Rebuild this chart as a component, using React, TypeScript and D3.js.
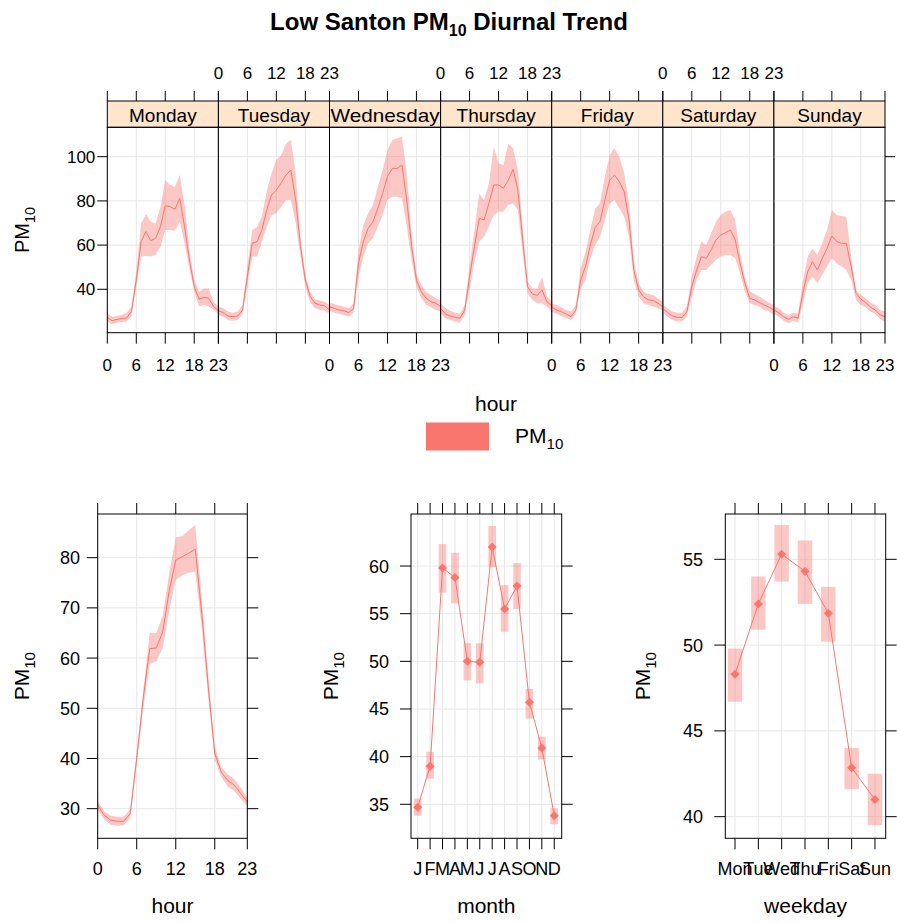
import * as d3 from "d3";
import { useEffect, useRef } from "react";

// ---- data (PM10) ----
const days = ["Monday", "Tuesday", "Wednesday", "Thursday", "Friday", "Saturday", "Sunday"];
const hourTicks = [0, 6, 12, 18, 23];
const topYTicks = [40, 60, 80, 100];

const mondayMean = [27.2, 25.8, 26.4, 26.7, 27.0, 29.9, 44.2, 61.6, 66.1, 62.0, 63.1, 68.3, 77.8, 77.4, 76.2, 81.2, 68.3, 53.3, 41.2, 35.5, 36.4, 35.9, 32.2, 30.3];
const mondayLow = [25.4, 24.2, 24.9, 25.2, 25.4, 27.9, 41.2, 54.8, 55.1, 54.8, 55.5, 59.3, 66.8, 66.8, 66.5, 70.6, 60.8, 49.5, 38.9, 32.2, 32.9, 32.2, 30.6, 28.8];
const mondayHigh = [29.1, 27.6, 27.9, 28.4, 29.4, 32.2, 48.0, 69.8, 74.1, 70.6, 69.8, 77.4, 89.4, 87.2, 86.4, 91.7, 78.1, 57.8, 44.2, 38.9, 40.4, 40.4, 34.4, 32.2];

const tuesdayMean = [30.3, 29.4, 27.9, 27.6, 27.9, 30.6, 45.7, 60.8, 61.6, 66.8, 75.9, 82.7, 84.9, 88.2, 91.7, 94.0, 80.4, 59.3, 44.2, 36.7, 33.7, 32.9, 32.5, 30.6];
const tuesdayLow = [28.4, 27.6, 26.1, 25.8, 26.1, 28.8, 42.0, 54.8, 54.8, 61.6, 68.3, 73.6, 74.4, 77.4, 80.4, 80.4, 69.8, 54.8, 41.2, 34.0, 31.4, 30.6, 30.3, 28.8];
const tuesdayHigh = [32.2, 31.4, 29.9, 29.4, 29.9, 32.9, 50.3, 66.8, 68.3, 72.9, 84.2, 92.5, 98.5, 100.8, 106.0, 107.5, 92.5, 63.8, 46.5, 38.9, 35.5, 34.9, 34.4, 32.9];

const wednesdayMean = [32.2, 31.4, 30.6, 30.3, 29.4, 31.4, 51.8, 61.6, 67.6, 70.6, 76.6, 83.4, 91.0, 94.7, 94.7, 96.2, 80.4, 59.3, 44.2, 38.9, 35.9, 34.4, 33.7, 32.2];
const wednesdayLow = [30.3, 29.4, 28.8, 28.4, 27.6, 29.4, 45.7, 54.8, 60.8, 63.1, 68.3, 73.6, 80.4, 81.9, 81.9, 81.2, 68.3, 53.3, 41.2, 35.9, 32.9, 31.9, 30.6, 29.9];
const wednesdayHigh = [34.0, 33.4, 32.5, 32.2, 31.4, 33.7, 57.8, 69.1, 74.4, 78.1, 86.4, 94.0, 103.0, 107.5, 108.3, 109.0, 92.5, 65.3, 47.2, 42.0, 38.9, 37.4, 35.9, 35.2];

const thursdayMean = [31.4, 28.8, 27.9, 27.3, 26.9, 30.6, 45.7, 59.3, 72.1, 71.4, 78.9, 87.2, 87.2, 85.7, 89.4, 94.3, 84.9, 62.3, 41.2, 37.9, 37.2, 39.7, 34.4, 32.5];
const thursdayLow = [29.1, 26.9, 26.1, 25.4, 24.9, 28.4, 40.4, 52.5, 61.6, 63.8, 68.3, 73.6, 75.1, 75.1, 78.1, 78.9, 75.9, 56.3, 38.1, 35.2, 33.7, 33.7, 32.2, 29.9];
const thursdayHigh = [33.7, 31.4, 30.3, 29.4, 29.1, 32.9, 51.0, 66.8, 83.4, 80.4, 87.9, 104.5, 97.0, 96.2, 106.0, 103.8, 94.0, 68.3, 43.5, 40.4, 40.4, 45.7, 36.7, 34.4];

const fridayMean = [31.9, 30.6, 29.9, 28.8, 27.6, 30.6, 44.2, 50.3, 60.0, 68.0, 70.6, 80.4, 89.4, 91.7, 88.7, 84.2, 71.4, 48.7, 39.7, 36.7, 35.2, 34.9, 33.7, 32.2];
const fridayLow = [29.9, 28.8, 27.9, 26.9, 26.1, 28.8, 40.4, 44.2, 54.0, 60.0, 63.8, 71.4, 78.9, 80.4, 76.6, 72.9, 63.8, 44.2, 36.7, 33.7, 32.9, 32.2, 31.4, 30.3];
const fridayHigh = [33.7, 32.9, 31.9, 30.6, 29.9, 32.9, 49.5, 57.0, 66.8, 76.6, 78.9, 91.0, 100.8, 103.8, 100.0, 92.5, 78.9, 53.3, 42.7, 38.9, 37.9, 37.4, 35.9, 34.4];

const saturdayMean = [31.4, 29.4, 27.9, 27.3, 27.3, 29.9, 41.2, 48.7, 54.8, 54.0, 57.8, 62.3, 64.6, 65.6, 66.8, 62.3, 51.8, 42.7, 35.9, 35.2, 34.0, 32.9, 31.9, 30.6];
const saturdayLow = [29.4, 27.6, 26.1, 25.4, 25.4, 27.9, 36.7, 44.2, 48.7, 48.7, 51.0, 53.3, 54.8, 55.5, 55.5, 54.0, 47.2, 38.9, 33.7, 32.9, 32.2, 30.6, 29.9, 28.4];
const saturdayHigh = [32.9, 31.4, 29.9, 29.4, 29.4, 32.5, 45.7, 54.8, 61.6, 60.0, 65.3, 70.6, 73.6, 75.1, 75.9, 71.4, 56.3, 45.7, 38.9, 37.9, 36.7, 35.2, 34.0, 32.9];

const sundayMean = [30.6, 29.4, 27.6, 26.4, 27.6, 26.9, 38.2, 48.0, 52.5, 48.7, 54.0, 58.5, 64.1, 61.6, 60.8, 60.8, 50.3, 38.2, 35.5, 34.0, 31.9, 30.6, 28.4, 27.6];
const sundayLow = [28.8, 27.6, 25.8, 24.6, 25.8, 24.9, 33.7, 42.7, 45.7, 42.7, 46.5, 50.3, 54.0, 51.8, 50.3, 48.7, 44.2, 35.2, 32.9, 31.9, 29.9, 28.8, 26.4, 25.4];
const sundayHigh = [32.5, 31.4, 29.4, 28.4, 29.4, 29.1, 43.5, 54.8, 58.5, 55.5, 60.8, 66.8, 75.9, 73.6, 73.2, 72.9, 54.8, 39.7, 37.4, 35.9, 34.0, 32.9, 30.6, 29.9];

const hourMean = [30.7, 28.7, 27.7, 27.5, 27.5, 29.0, 40.0, 52.0, 61.9, 62.0, 65.2, 73.5, 79.5, 80.2, 80.9, 81.7, 68.9, 54.3, 41.0, 37.3, 35.6, 34.7, 33.0, 31.3];
const hourLow = [29.8, 27.8, 26.8, 26.6, 26.7, 28.2, 39.0, 50.0, 58.8, 59.3, 62.0, 69.5, 75.6, 76.5, 77.0, 77.2, 66.0, 52.0, 39.7, 36.3, 34.4, 33.5, 32.0, 30.5];
const hourHigh = [31.5, 29.5, 28.6, 28.4, 28.4, 29.9, 41.5, 53.5, 65.1, 65.0, 68.4, 77.0, 84.0, 84.3, 85.5, 86.5, 72.0, 56.7, 42.3, 38.3, 36.8, 35.9, 34.2, 32.2];
const hourYTicks = [30, 40, 50, 60, 70, 80];

const monthLabels = ["J", "F", "M", "A", "M", "J", "J", "A", "S", "O", "N", "D"];
const monthMean = [34.7, 39.0, 59.8, 58.8, 50.0, 49.9, 62.0, 55.5, 57.9, 45.7, 40.9, 33.8];
const monthLow = [33.8, 37.7, 57.2, 56.1, 48.0, 47.7, 59.9, 53.1, 55.5, 44.0, 39.7, 32.9];
const monthHigh = [35.6, 40.5, 62.3, 61.4, 51.9, 51.9, 64.2, 58.0, 60.3, 47.1, 42.1, 34.6];
const monthYTicks = [35, 40, 45, 50, 55, 60];

const weekdayLabels = ["Mon", "Tue", "Wed", "Thu", "Fri", "Sat", "Sun"];
const weekdayMean = [48.3, 52.4, 55.3, 54.3, 51.85, 42.85, 41.0];
const weekdayLow = [46.7, 50.9, 53.7, 52.4, 50.2, 41.6, 39.5];
const weekdayHigh = [49.8, 54.0, 57.0, 56.1, 53.4, 44.0, 42.5];
const weekdayYTicks = [40, 45, 50, 55];

const dayMeans = [mondayMean, tuesdayMean, wednesdayMean, thursdayMean, fridayMean, saturdayMean, sundayMean];
const dayLows = [mondayLow, tuesdayLow, wednesdayLow, thursdayLow, fridayLow, saturdayLow, sundayLow];
const dayHighs = [mondayHigh, tuesdayHigh, wednesdayHigh, thursdayHigh, fridayHigh, saturdayHigh, sundayHigh];

const FONT = "'Liberation Sans', Arial, Helvetica, sans-serif";
const COL = "#F8766D";
const BAND = "rgba(248,118,109,0.4)";
const GRID = "#E6E6E6";

// write "PM" with subscript 10
function pm10(text, size) {
  text.append("tspan").text("PM");
  text.append("tspan").attr("font-size", size * 0.72).attr("dy", size * 0.3).text("10");
}

const App = () => {
  const ref = useRef();

  useEffect(() => {
    const svg = d3.select(ref.current);
    svg.selectAll("*").remove();
    svg.attr("font-family", FONT);

    // title
    const title = svg.append("text")
      .attr("x", 449).attr("y", 30)
      .attr("text-anchor", "middle")
      .attr("font-size", 24).attr("font-weight", "bold");
    title.append("tspan").text("Low Santon PM");
    title.append("tspan").attr("font-size", 16).attr("dy", 6).text("10");
    title.append("tspan").attr("dy", -6).text(" Diurnal Trend");

    // ---------- top panel: hour by day ----------
    const left = 107.3, right = 885, stripTop = 101, pTop = 127.3, pBottom = 332.7;
    const dayW = (right - left) / days.length;
    const y = d3.scaleLinear().domain([20.36, 113.3]).range([pBottom, pTop]);
    const top = svg.append("g");

    days.forEach((day, i) => {
      const x = d3.scaleLinear().domain([0, 23]).range([left + i * dayW, left + (i + 1) * dayW]);
      const g = top.append("g");

      g.selectAll(".gx").data(hourTicks).join("line")
        .attr("x1", d => x(d)).attr("x2", d => x(d))
        .attr("y1", pTop).attr("y2", pBottom)
        .attr("stroke", GRID).attr("stroke-width", 1);
      g.selectAll(".gy").data(topYTicks).join("line")
        .attr("x1", x(0)).attr("x2", x(23))
        .attr("y1", d => y(d)).attr("y2", d => y(d))
        .attr("stroke", GRID).attr("stroke-width", 1);

      const hrs = dayMeans[i].map((_, j) => j);
      g.append("path")
        .datum(hrs)
        .attr("d", d3.area().x(j => x(j)).y0(j => y(dayLows[i][j])).y1(j => y(dayHighs[i][j])))
        .attr("fill", BAND);
      g.append("path")
        .datum(hrs)
        .attr("d", d3.line().x(j => x(j)).y(j => y(dayMeans[i][j])))
        .attr("fill", "none").attr("stroke", COL).attr("stroke-width", 1);

      // strip
      g.append("rect")
        .attr("x", x(0)).attr("y", stripTop)
        .attr("width", dayW).attr("height", pTop - stripTop)
        .attr("fill", "#FFE5CC").attr("stroke", "#000").attr("stroke-width", 1);
      const lab = g.append("text")
        .attr("x", x(11.5)).attr("y", stripTop + 21)
        .attr("text-anchor", "middle").attr("font-size", 19)
        .text(day);
      if (day.length > 8) lab.attr("textLength", 109).attr("lengthAdjust", "spacingAndGlyphs");

      // panel border
      g.append("rect")
        .attr("x", x(0)).attr("y", pTop)
        .attr("width", dayW).attr("height", pBottom - pTop)
        .attr("fill", "none").attr("stroke", "#000").attr("stroke-width", 1);

      // ticks bottom and top
      g.selectAll(".tb").data(hourTicks).join("line")
        .attr("x1", d => x(d)).attr("x2", d => x(d))
        .attr("y1", pBottom).attr("y2", pBottom + 11)
        .attr("stroke", "#000");
      g.selectAll(".tt").data(hourTicks).join("line")
        .attr("x1", d => x(d)).attr("x2", d => x(d))
        .attr("y1", stripTop - 10).attr("y2", stripTop)
        .attr("stroke", "#000");

      const labY = i % 2 === 0 ? pBottom + 38 : stripTop - 22;
      g.selectAll(".tl").data(hourTicks).join("text")
        .attr("x", d => x(d)).attr("y", labY)
        .attr("text-anchor", "middle").attr("font-size", 17)
        .text(d => d);
    });

    topYTicks.forEach(v => {
      top.append("line").attr("x1", left - 10).attr("x2", left).attr("y1", y(v)).attr("y2", y(v)).attr("stroke", "#000");
      top.append("line").attr("x1", right).attr("x2", right + 10).attr("y1", y(v)).attr("y2", y(v)).attr("stroke", "#000");
      top.append("text").attr("x", left - 12).attr("y", y(v) + 6)
        .attr("text-anchor", "end").attr("font-size", 17).text(v);
    });
    const topLab = top.append("text")
      .attr("transform", `translate(29,${(pTop + pBottom) / 2}) rotate(-90)`)
      .attr("text-anchor", "middle").attr("font-size", 20);
    pm10(topLab, 20);

    // legend
    svg.append("text").attr("x", 496).attr("y", 411)
      .attr("text-anchor", "middle").attr("font-size", 21).text("hour");
    svg.append("rect").attr("x", 426).attr("y", 422.5).attr("width", 63).attr("height", 28).attr("fill", COL);
    const legLab = svg.append("text").attr("x", 515).attr("y", 443).attr("font-size", 21);
    pm10(legLab, 21);

    // ---------- bottom panels ----------
    const bTop = 514, bBottom = 838.3;

    function frame(x, yS, xTicks, xLabels, yTicks, xTitle, labEnd, yTitleX, fontSize) {
      const g = svg.append("g");
      const [x0, x1] = x.range();
      g.selectAll(".gx").data(xTicks).join("line")
        .attr("x1", d => x(d)).attr("x2", d => x(d))
        .attr("y1", bTop).attr("y2", bBottom).attr("stroke", GRID);
      g.selectAll(".gy").data(yTicks).join("line")
        .attr("x1", x0).attr("x2", x1)
        .attr("y1", d => yS(d)).attr("y2", d => yS(d)).attr("stroke", GRID);
      // ticks
      xTicks.forEach(t => {
        g.append("line").attr("x1", x(t)).attr("x2", x(t)).attr("y1", bBottom).attr("y2", bBottom + 11).attr("stroke", "#000");
        g.append("line").attr("x1", x(t)).attr("x2", x(t)).attr("y1", bTop - 11).attr("y2", bTop).attr("stroke", "#000");
      });
      yTicks.forEach(t => {
        g.append("line").attr("x1", x0 - 11).attr("x2", x0).attr("y1", yS(t)).attr("y2", yS(t)).attr("stroke", "#000");
        g.append("line").attr("x1", x1).attr("x2", x1 + 11).attr("y1", yS(t)).attr("y2", yS(t)).attr("stroke", "#000");
        g.append("text").attr("x", labEnd).attr("y", yS(t) + 6.5)
          .attr("text-anchor", "end").attr("font-size", fontSize).text(t);
      });
      g.selectAll(".xl").data(xTicks).join("text")
        .attr("x", d => x(d)).attr("y", 875)
        .attr("text-anchor", "middle").attr("font-size", fontSize)
        .text((d, i) => xLabels[i]);
      g.append("text").attr("x", (x0 + x1) / 2).attr("y", 913)
        .attr("text-anchor", "middle").attr("font-size", 21).text(xTitle);
      const yl = g.append("text")
        .attr("transform", `translate(${yTitleX},${(bTop + bBottom) / 2}) rotate(-90)`)
        .attr("text-anchor", "middle").attr("font-size", 21);
      pm10(yl, 21);
      return g;
    }

    function border(g, x) {
      const [x0, x1] = x.range();
      g.append("rect").attr("x", x0).attr("y", bTop).attr("width", x1 - x0).attr("height", bBottom - bTop)
        .attr("fill", "none").attr("stroke", "#000");
    }

    // hour panel
    {
      const x = d3.scaleLinear().domain([0, 23]).range([97.7, 247.3]);
      const yS = d3.scaleLinear().domain([24.1, 88.7]).range([bBottom, bTop]);
      const g = frame(x, yS, hourTicks, hourTicks.map(String), hourYTicks, "hour", 80, 29, 18);
      const hrs = hourMean.map((_, j) => j);
      g.append("path").datum(hrs)
        .attr("d", d3.area().x(j => x(j)).y0(j => yS(hourLow[j])).y1(j => yS(hourHigh[j])))
        .attr("fill", BAND);
      g.append("path").datum(hrs)
        .attr("d", d3.line().x(j => x(j)).y(j => yS(hourMean[j])))
        .attr("fill", "none").attr("stroke", COL);
      border(g, x);
    }

    const diamond = r => `M0,${-r}L${r},0L0,${r}L${-r},0Z`;

    function catPanel(xDomain, xRange, yDomain, labels, mean, low, high, yTicks, xTitle, labEnd, yTitleX) {
      const x = d3.scaleLinear().domain(xDomain).range(xRange);
      const yS = d3.scaleLinear().domain(yDomain).range([bBottom, bTop]);
      const idx = labels.map((_, i) => i + 1);
      const g = frame(x, yS, idx, labels, yTicks, xTitle, labEnd, yTitleX, 18);
      const bw = (x(2) - x(1)) * 0.62;
      g.selectAll(".ci").data(idx).join("rect")
        .attr("x", d => x(d) - bw / 2).attr("width", bw)
        .attr("y", d => yS(high[d - 1])).attr("height", d => yS(low[d - 1]) - yS(high[d - 1]))
        .attr("fill", BAND);
      g.append("path").datum(idx)
        .attr("d", d3.line().x(d => x(d)).y(d => yS(mean[d - 1])))
        .attr("fill", "none").attr("stroke", COL);
      g.selectAll(".pt").data(idx).join("path")
        .attr("transform", d => `translate(${x(d)},${yS(mean[d - 1])})`)
        .attr("d", diamond(4.5)).attr("fill", COL);
      border(g, x);
    }

    catPanel([0.46, 12.6], [411, 561.7], [31.43, 65.46], monthLabels, monthMean, monthLow, monthHigh, monthYTicks, "month", 389, 338);
    catPanel([0.584, 7.46], [725.3, 885.7], [38.74, 57.64], weekdayLabels, weekdayMean, weekdayLow, weekdayHigh, weekdayYTicks, "weekday", 703, 650);
  }, []);

  return (
    <svg ref={ref} width={897} height={922}
      style={{ position: "absolute", left: 0, top: 0, background: "#fff" }} />
  );
};

export default App;
